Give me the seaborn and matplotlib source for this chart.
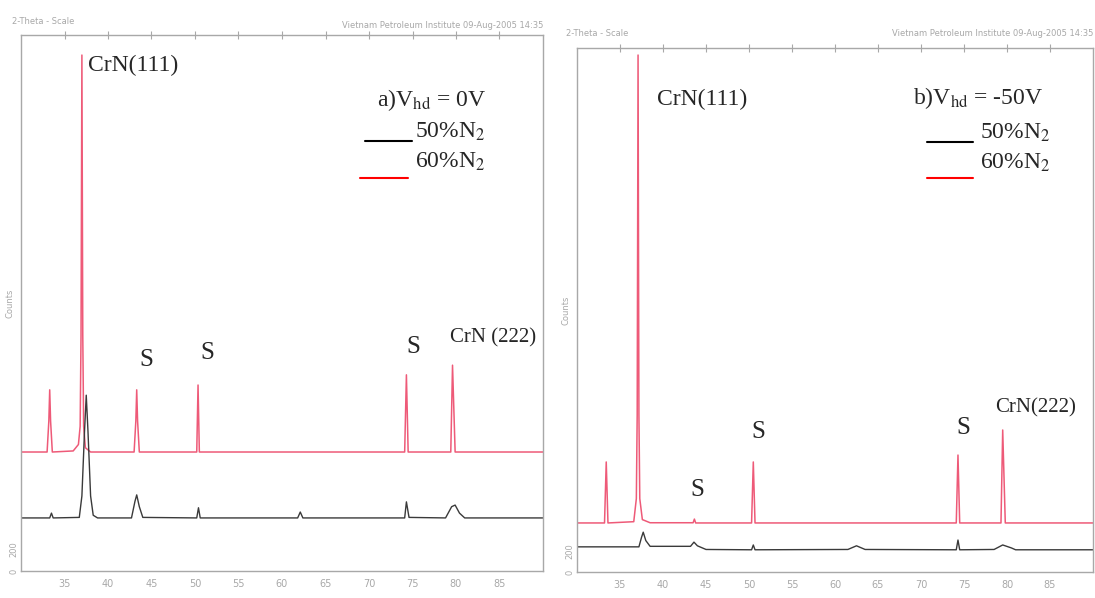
import pandas as pd
import numpy as np
from matplotlib import pyplot as plt
import seaborn as sns

# XRD patterns (2-theta in degrees, intensity in counts)
# a) Vhd = 0V
a60_x = [30.0, 33.0, 33.2, 33.3, 33.4, 33.6, 36.0, 36.6, 36.8, 36.9, 37.0, 37.1, 37.2, 37.4, 38.0,
         43.0, 43.2, 43.3, 43.4, 43.6, 50.2, 50.35, 50.5, 74.1, 74.3, 74.5, 79.4, 79.6, 79.9, 90.0]
a60_y = [1110, 1110, 1400, 1690, 1400, 1110, 1120, 1180, 1350, 2200, 4813, 2200, 1350, 1150, 1110,
         1110, 1400, 1690, 1400, 1110, 1110, 1735, 1110, 1110, 1830, 1110, 1110, 1920, 1110, 1110]
a50_x = [30.0, 33.3, 33.5, 33.7, 36.7, 37.0, 37.3, 37.5, 37.7, 38.0, 38.3, 38.8, 42.7, 43.1, 43.3,
         43.6, 44.0, 50.2, 50.4, 50.6, 61.8, 62.1, 62.4, 74.1, 74.3, 74.6, 78.8, 79.5, 79.9, 80.4,
         81.0, 90.0]
a50_y = [495, 495, 540, 495, 500, 700, 1300, 1640, 1300, 700, 520, 495, 495, 650, 710,
         600, 500, 495, 590, 495, 495, 550, 495, 495, 645, 500, 495, 600, 615, 540,
         495, 495]

# b) Vhd = -50V
b60_x = [30.0, 33.2, 33.4, 33.6, 36.6, 36.9, 37.0, 37.1, 37.2, 37.3, 37.6, 38.5, 43.5, 43.65, 43.8,
         50.3, 50.5, 50.7, 74.1, 74.3, 74.5, 79.3, 79.5, 79.8, 90.0]
b60_y = [468, 468, 1050, 468, 480, 700, 1500, 4933, 1500, 700, 500, 470, 470, 505, 468,
         468, 1050, 468, 468, 1116, 468, 468, 1355, 468, 468]
b50_x = [30.0, 37.2, 37.5, 37.7, 38.0, 38.5, 43.2, 43.6, 44.0, 45.0, 50.3, 50.5, 50.7, 61.5, 62.5,
         63.5, 74.1, 74.3, 74.5, 78.5, 79.5, 80.5, 81.0, 90.0]
b50_y = [240, 240, 330, 380, 300, 245, 245, 285, 250, 215, 212, 258, 212, 215, 250,
         215, 212, 305, 212, 215, 258, 230, 212, 212]

x_ticks = [35, 40, 45, 50, 55, 60, 65, 70, 75, 80, 85]

sns.set_style("white")
plt.rcParams['font.family'] = ['Liberation Serif', 'DejaVu Serif']
plt.rcParams['mathtext.fontset'] = 'stix'

RED = '#ee5a78'
BLACK = '#3a3a3a'
GREY = '#a8a8a8'

fig = plt.figure(figsize=(10.95, 5.98), dpi=100)
W, H = 1095, 598
ax_a = fig.add_axes([21 / W, (H - 571) / H, 522 / W, 536 / H])
ax_b = fig.add_axes([577 / W, (H - 572) / H, 516 / W, 524 / H])

panels = [
    (ax_a, a50_x, a50_y, a60_x, a60_y),
    (ax_b, b50_x, b50_y, b60_x, b60_y),
]

for ax, x50, y50, x60, y60 in panels:
    sns.lineplot(x=x60, y=y60, ax=ax, color=RED, lw=1.1, sort=False)
    sns.lineplot(x=x50, y=y50, ax=ax, color=BLACK, lw=1.0, sort=False)
    ax.set_xlim(30, 90)
    ax.set_ylim(0, 5000)
    ax.set_xticks(x_ticks)
    ax.set_xticks(range(30, 91), minor=True)
    ax.set_xticklabels([str(t) for t in x_ticks], fontsize=7, color=GREY, family='DejaVu Sans')
    ax.set_yticks([0, 200, 1000, 2000, 3000, 4000])
    ax.set_yticklabels(['0', '200', '', '', '', ''], fontsize=6, color=GREY,
                       rotation=90, va='center', family='DejaVu Sans')
    ax.tick_params(axis='x', which='major', direction='inout', length=6, color=GREY,
                   top=True, pad=3)
    ax.tick_params(axis='x', which='minor', direction='inout', length=3, color=GREY, top=False)
    ax.tick_params(axis='y', direction='in', length=4, color=GREY, pad=2)
    for s in ax.spines.values():
        s.set_color(GREY)
        s.set_linewidth(1.0)
    ax.set_xlabel('')
    ax.set_ylabel('Counts', fontsize=6, color=GREY, family='DejaVu Sans')
    ax.yaxis.set_label_coords(-0.012, 0.5)

# panel a annotations
T = ax_a.transAxes
ax_a.text(0.128, 0.944, 'CrN(111)', transform=T, fontsize=17, va='center')
ax_a.text(0.682, 0.879, r'a)V$_{\mathrm{hd}}$ = 0V', transform=T, fontsize=17, va='center')
ax_a.text(0.755, 0.819, r'50%N$_2$', transform=T, fontsize=17, va='center')
ax_a.text(0.755, 0.763, r'60%N$_2$', transform=T, fontsize=17, va='center')
ax_a.plot([0.659, 0.749], [0.802, 0.802], transform=T, color='black', lw=1.5)
ax_a.plot([0.649, 0.741], [0.733, 0.733], transform=T, color='red', lw=1.5)
ax_a.text(0.241, 0.394, 'S', transform=T, fontsize=18, ha='center', va='center')
ax_a.text(0.356, 0.407, 'S', transform=T, fontsize=18, ha='center', va='center')
ax_a.text(0.751, 0.418, 'S', transform=T, fontsize=18, ha='center', va='center')
ax_a.text(0.822, 0.435, 'CrN (222)', transform=T, fontsize=15, va='center')

# panel b annotations
T = ax_b.transAxes
ax_b.text(0.155, 0.901, 'CrN(111)', transform=T, fontsize=17, va='center')
ax_b.text(0.651, 0.905, r'b)V$_{\mathrm{hd}}$ = -50V', transform=T, fontsize=17, va='center')
ax_b.text(0.781, 0.838, r'50%N$_2$', transform=T, fontsize=17, va='center')
ax_b.text(0.781, 0.781, r'60%N$_2$', transform=T, fontsize=17, va='center')
ax_b.plot([0.678, 0.767], [0.821, 0.821], transform=T, color='black', lw=1.5)
ax_b.plot([0.678, 0.767], [0.752, 0.752], transform=T, color='red', lw=1.5)
ax_b.text(0.233, 0.156, 'S', transform=T, fontsize=18, ha='center', va='center')
ax_b.text(0.351, 0.267, 'S', transform=T, fontsize=18, ha='center', va='center')
ax_b.text(0.748, 0.275, 'S', transform=T, fontsize=18, ha='center', va='center')
ax_b.text(0.810, 0.313, 'CrN(222)', transform=T, fontsize=15, va='center')

# scanned instrument headers
hdr = dict(fontsize=6, color=GREY, family='DejaVu Sans', va='center')
fig.text(12 / W, 1 - 22 / H, '2-Theta - Scale', **hdr)
fig.text(543 / W, 1 - 26 / H, 'Vietnam Petroleum Institute 09-Aug-2005 14:35', ha='right', **hdr)
fig.text(566 / W, 1 - 33 / H, '2-Theta - Scale', **hdr)
fig.text(1093 / W, 1 - 33 / H, 'Vietnam Petroleum Institute 09-Aug-2005 14:35', ha='right', **hdr)

plt.savefig('out.png', dpi=100)
